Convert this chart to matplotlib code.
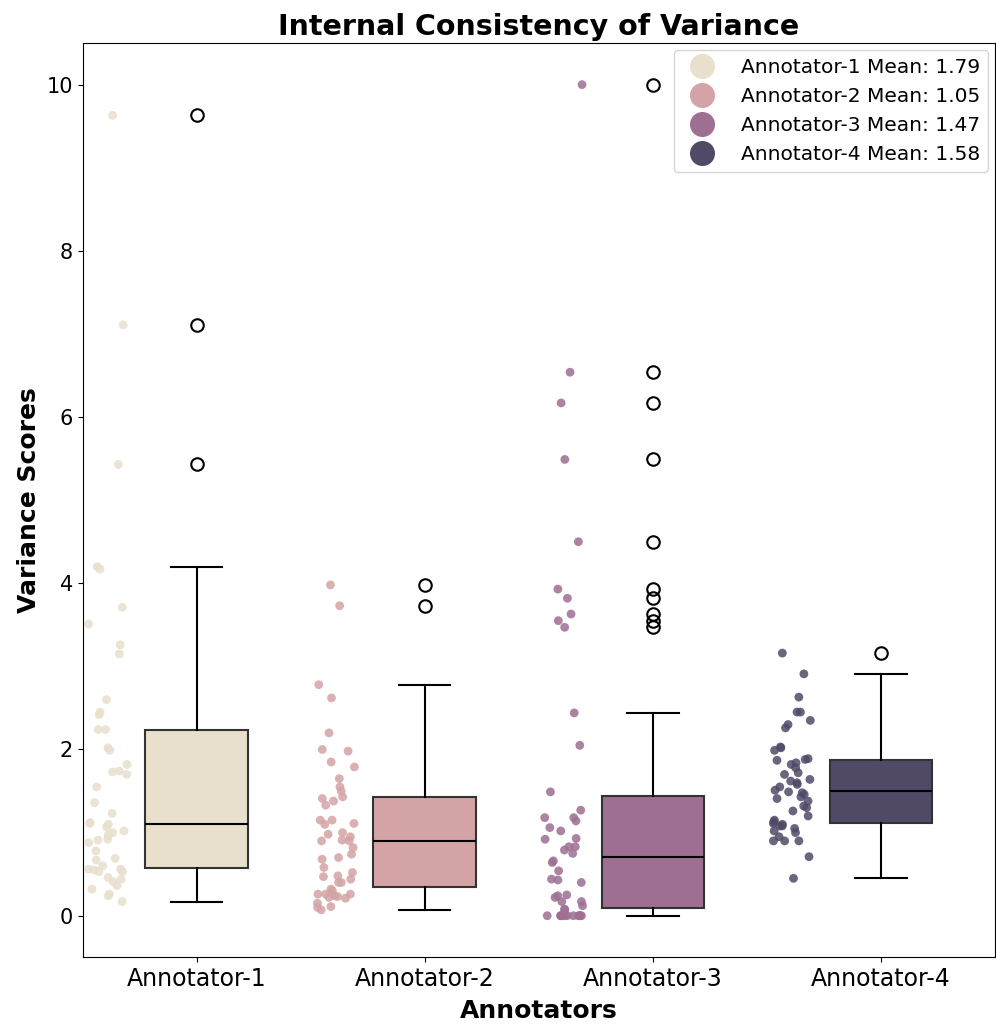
import numpy as np
import matplotlib
matplotlib.use("Agg")
import matplotlib.pyplot as plt
from matplotlib.lines import Line2D

# variance scores per annotator
annotators = ["Annotator-1", "Annotator-2", "Annotator-3", "Annotator-4"]

scores_a1 = [9.63, 7.11, 5.43, 4.20, 4.17, 3.71, 3.51, 3.26, 3.15, 2.60,
             2.45, 2.42, 2.24, 2.24, 2.02, 1.99, 1.82, 1.74, 1.73, 1.70,
             1.55, 1.36, 1.23, 1.12, 1.11, 1.10, 1.07, 1.02, 1.00, 0.97,
             0.92, 0.91, 0.88, 0.78, 0.69, 0.67, 0.60, 0.56, 0.56, 0.55,
             0.53, 0.53, 0.46, 0.44, 0.41, 0.36, 0.32, 0.26, 0.24, 0.17]

scores_a2 = [3.98, 3.73, 2.78, 2.62, 2.20, 2.00, 1.98, 1.85, 1.79, 1.65,
             1.55, 1.50, 1.43, 1.41, 1.38, 1.33, 1.15, 1.15, 1.11, 1.10,
             1.00, 0.98, 0.95, 0.91, 0.90, 0.90, 0.82, 0.74, 0.70, 0.68,
             0.58, 0.52, 0.48, 0.47, 0.44, 0.40, 0.40, 0.32, 0.30, 0.26,
             0.26, 0.26, 0.24, 0.23, 0.22, 0.21, 0.15, 0.11, 0.10, 0.07]

scores_a3 = [10.0, 6.54, 6.17, 5.49, 4.50, 3.93, 3.82, 3.63, 3.55, 3.47,
             2.44, 2.05, 1.49, 1.27, 1.18, 1.18, 1.14, 1.06, 1.02, 0.93,
             0.92, 0.83, 0.83, 0.79, 0.75, 0.66, 0.64, 0.54, 0.44, 0.43,
             0.40, 0.25, 0.24, 0.22, 0.17, 0.17, 0.12, 0.08, 0.07, 0.0,
             0.0, 0.0, 0.0, 0.0, 0.0, 0.0, 0.0, 0.0, 0.0, 0.0]

scores_a4 = [3.16, 2.91, 2.63, 2.45, 2.45, 2.35, 2.26, 2.30, 2.03, 1.99,
             2.02, 1.89, 1.88, 1.87, 1.84, 1.82, 1.78, 1.72, 1.70, 1.64,
             1.62, 1.60, 1.58, 1.55, 1.51, 1.49, 1.48, 1.46, 1.43, 1.41,
             1.38, 1.32, 1.30, 1.26, 1.20, 1.15, 1.13, 1.11, 1.10, 1.08,
             1.08, 1.05, 1.02, 1.00, 0.95, 0.90, 0.90, 0.90, 0.71, 0.45]

all_scores = [scores_a1, scores_a2, scores_a3, scores_a4]
colors = ["#e8dfcc", "#d4a3a5", "#9e6f93", "#514a67"]

fig = plt.figure(figsize=(9.96, 10.26), dpi=100)
ax = fig.add_axes([0.083, 0.067, 0.916, 0.891])

positions = np.arange(len(annotators))

# boxes
bp = ax.boxplot(all_scores, positions=positions, widths=0.45, patch_artist=True,
                medianprops=dict(color="black", linewidth=1.5),
                whiskerprops=dict(color="black", linewidth=1.5),
                capprops=dict(color="black", linewidth=1.5),
                flierprops=dict(marker="o", markerfacecolor="none",
                                markeredgecolor="black", markersize=9,
                                markeredgewidth=1.5),
                zorder=2)
for patch, c in zip(bp["boxes"], colors):
    patch.set_facecolor(c)
    patch.set_edgecolor("#333333")
    patch.set_linewidth(1.5)

# jittered points shifted to the left of each box
rng = np.random.default_rng(7)
for i, (vals, c) in enumerate(zip(all_scores, colors)):
    xs = i - 0.39 + rng.uniform(-0.085, 0.085, len(vals))
    ax.scatter(xs, vals, s=40, color=c, alpha=0.85, edgecolors="none", zorder=3)

ax.set_xticks(positions)
ax.set_xticklabels(annotators, fontsize=17)
ax.tick_params(axis="y", labelsize=15)
ax.set_xlim(-0.5, 3.5)
ax.set_ylim(-0.5, 10.5)

ax.set_title("Internal Consistency of Variance", fontsize=20.5, fontweight="bold")
ax.set_xlabel("Annotators", fontsize=18, fontweight="bold", labelpad=6)
ax.set_ylabel("Variance Scores", fontsize=18, fontweight="bold")

handles = [Line2D([0], [0], marker="o", linestyle="none", markersize=17,
                  markerfacecolor=c, markeredgecolor=c,
                  label=f"{name} Mean: {np.mean(vals):.2f}")
           for name, vals, c in zip(annotators, all_scores, colors)]
ax.legend(handles=handles, loc="upper right", fontsize=14.5,
          borderaxespad=0.35, handletextpad=0.9)

plt.savefig("out.png", dpi=100)
